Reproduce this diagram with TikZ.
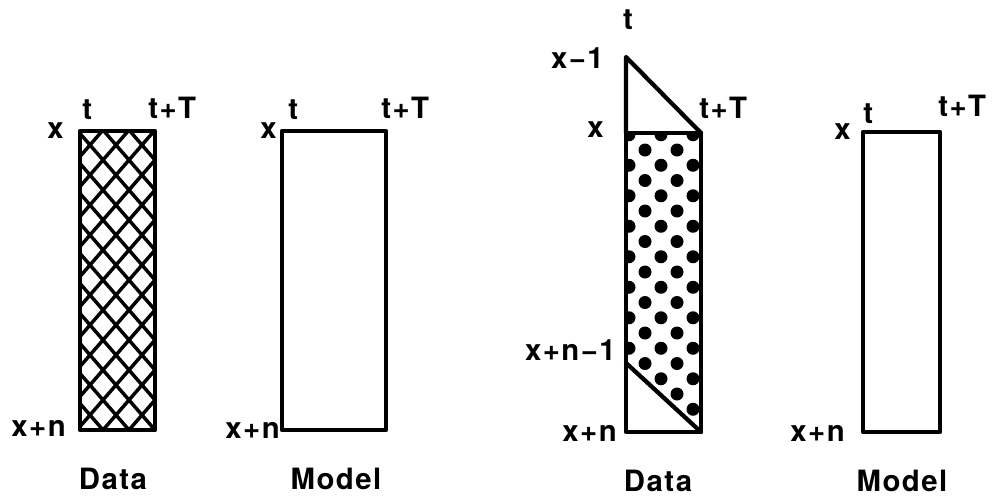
\documentclass[tikz,border=0pt]{standalone}
\usepackage{fontspec}
\setmainfont{TeX Gyre Heros}[LetterSpace=5]
\usepackage{tikz}
\usetikzlibrary{positioning}
\newcommand\lblfont{\fontsize{22}{26}\selectfont\bfseries}

\begin{document}
\begin{tikzpicture}[
  x=0.75pt, y=-0.75pt,
  lab/.style={anchor=base, inner sep=0pt, font=\lblfont},
  labl/.style={lab, anchor=base east},
  labr/.style={lab, anchor=base west},
  frame/.style={line width=3.2pt, line join=round, line cap=round},
  hatch/.style={line width=2.6pt}]
\useasboundingbox (0,0) rectangle (997,501);
% corners of the four windows
\coordinate (d1-tl) at (80,131);  \coordinate (d1-br) at (155,430);
\coordinate (m1-tl) at (282,131); \coordinate (m1-br) at (386,430);
\coordinate (d2-tl) at (626,133); \coordinate (d2-br) at (701,432);
\coordinate (d2-top) at (626,57); \coordinate (d2-cut) at (626,363);
\coordinate (m2-tl) at (863,132); \coordinate (m2-br) at (940,432);
% cross hatching
\begin{scope}
\clip (d1-tl) rectangle (d1-br);
\foreach \k in {-12,...,14}{
  \draw[hatch] (90+26*\k-325,-230) -- (90+26*\k+325,520);
  \draw[hatch] (90+26*\k+325,-230) -- (90+26*\k-325,520);
}
\end{scope}
% dots
\begin{scope}
\clip (d2-tl) -- (d2-tl -| d2-br) -- (d2-br) -- (d2-cut) -- cycle;
\foreach \m in {0,...,9}{
  \foreach \k in {0,1,2}{\fill (645+32*\k,150+30.5*\m) circle[radius=6.5];}
  \foreach \k in {0,...,3}{\fill (629+32*\k,134.75+30.5*\m) circle[radius=6.5];}
}
\end{scope}
% frames
\draw[frame] (d1-tl) rectangle (d1-br);
\draw[frame] (m1-tl) rectangle (m1-br);
\draw[frame] (d2-tl) rectangle (d2-br);
\draw[frame] (d2-tl) -- (d2-top) -- (d2-tl -| d2-br);
\draw[frame] (d2-cut) -- (d2-br);
\draw[frame] (m2-tl) rectangle (m2-br);
% labels
\node[labl] (d1-x) at (64,138) {x};
\node[labr] (d1-t) at (82,119) {t};
\node[labr] (d1-tT) at (148,118) {t+T};
\node[labl] (d1-xn) at (66,436) {x+n};
\node[lab] (d1-cap) at (113,489) {Data};
\node[labl] (m1-x) at (277,138) {x};
\node[labr] (m1-t) at (288,119) {t};
\node[labr] (m1-tT) at (381,118) {t+T};
\node[labl] (m1-xn) at (280,438) {x+n};
\node[lab] (m1-cap) at (336,489) {Model};
\node[lab] (d2-t) at (628,29) {t};
\node[labl] (d2-x1) at (604,68) {x−1};
\node[labl] (d2-x) at (604,137) {x};
\node[labr] (d2-tT) at (699,118) {t+T};
\node[labl] (d2-xn1) at (616,360) {x+n−1};
\node[labl] (d2-xn) at (617,441) {x+n};
\node[lab] (d2-cap) at (658,491) {Data};
\node[labl] (m2-x) at (851,139) {x};
\node[labr] (m2-t) at (863,123) {t};
\node[labr] (m2-tT) at (938,116) {t+T};
\node[labl] (m2-xn) at (845,441) {x+n};
\node[lab] (m2-cap) at (902,491) {Model};
\end{tikzpicture}
\end{document}
